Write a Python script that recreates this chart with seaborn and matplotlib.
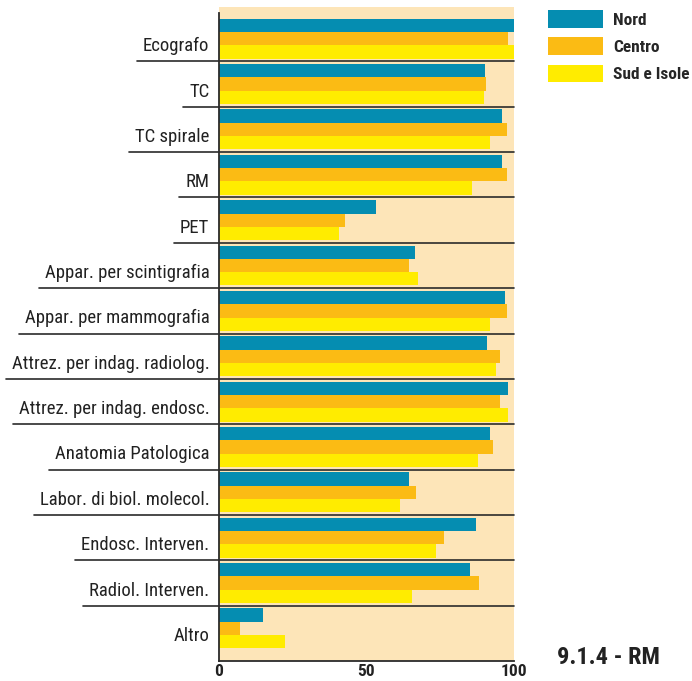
import pandas as pd
import matplotlib.pyplot as plt
import matplotlib.transforms as mtransforms
from matplotlib.patches import Patch
import seaborn as sns

CATEGORIES = [
    "Ecografo", "TC", "TC spirale", "RM", "PET",
    "Appar. per scintigrafia", "Appar. per mammografia",
    "Attrez. per indag. radiolog.", "Attrez. per indag. endosc.",
    "Anatomia Patologica", "Labor. di biol. molecol.",
    "Endosc. Interven.", "Radiol. Interven.", "Altro",
]
NORD = [100, 90.2, 95.9, 95.9, 53.2, 66.4, 96.9, 90.8, 98.0, 91.9, 64.4, 87.1, 85.1, 14.9]
CENTRO = [98.0, 90.5, 97.6, 97.6, 42.7, 64.4, 97.6, 95.3, 95.3, 92.9, 66.8, 76.3, 88.1, 7.1]
SUD = [100, 89.7, 91.9, 85.8, 40.7, 67.5, 91.9, 93.9, 98.0, 87.8, 61.4, 73.6, 65.4, 22.4]
REGIONS = ["Nord", "Centro", "Sud e Isole"]
COLORS = ["#058db1", "#fbbb14", "#ffec00"]
TITLE = "9.1.4 - RM"

NARROW = ["Roboto Condensed", "DejaVu Sans"]
LINE_COL = "#2b2b2b"

df = pd.DataFrame({
    "cat": CATEGORIES * 3,
    "region": [r for r in REGIONS for _ in CATEGORIES],
    "val": NORD + CENTRO + SUD,
})

sns.set_style("white")
plt.rcParams["font.family"] = NARROW

fig = plt.figure(figsize=(6.92, 6.81), dpi=100)
ax = fig.add_axes([219 / 692, 1 - 661 / 681, 295 / 692, 654 / 681])
ax.set_facecolor("#fde5b8")

sns.barplot(data=df, y="cat", x="val", hue="region", orient="h",
            palette=COLORS, width=0.88, saturation=1, linewidth=0,
            legend=False, ax=ax)

ax.set_xlim(0, 100)
ax.set_ylim(13.5 + 0.22, -0.5 - 0.2)
ax.set_xlabel("")
ax.set_ylabel("")

for s in ["top", "right"]:
    ax.spines[s].set_visible(False)
for s in ["left", "bottom"]:
    ax.spines[s].set_color(LINE_COL)
    ax.spines[s].set_linewidth(1.3)
ax.spines["left"].set_bounds(13.72, -0.57)

ax.set_xticks([0, 50, 100])
ax.set_xticklabels(["0", "50", "100"], fontsize=12.5, fontweight="bold")
ax.tick_params(axis="x", direction="in", length=8, width=1.3, color=LINE_COL,
               pad=2, labelcolor="#222222")
ax.tick_params(axis="y", length=0, pad=7, labelsize=13.5, labelcolor="#222222")

# nudge category labels slightly downwards like in the original
offset = mtransforms.ScaledTranslation(0, -4 / 72, fig.dpi_scale_trans)
for lab in ax.get_yticklabels():
    lab.set_transform(lab.get_transform() + offset)

# separator lines under each label, running across the plot
fig.canvas.draw()
renderer = fig.canvas.get_renderer()
inv = ax.transAxes.inverted()
labels = ax.get_yticklabels()
for i in range(len(CATEGORIES) - 1):
    bb = labels[i].get_window_extent(renderer)
    x0 = inv.transform((bb.x0 - 6, 0))[0]
    ax.plot([x0, 1], [i + 0.5, i + 0.5], transform=ax.get_yaxis_transform(),
            color=LINE_COL, lw=1.2, clip_on=False, zorder=5)

handles = [Patch(facecolor=c, edgecolor="none") for c in COLORS]
fig.legend(handles, REGIONS, loc="upper left",
           bbox_to_anchor=(548 / 692, 1 - 10 / 681), frameon=False,
           borderpad=0, borderaxespad=0, handlelength=3.16, handleheight=1.2,
           labelspacing=0.55, handletextpad=0.57,
           prop={"family": NARROW, "weight": "bold", "size": 12.5})

fig.text(608 / 692, 1 - 657 / 681, TITLE, ha="center", va="center",
         fontsize=17.5, fontweight="bold", color="#222222", family=NARROW)

fig.savefig("out.png", dpi=100)
